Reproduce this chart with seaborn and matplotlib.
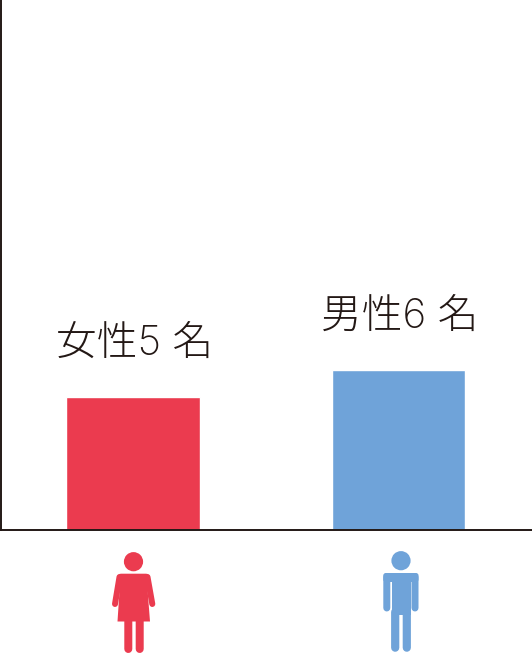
import matplotlib
matplotlib.use('Agg')
import matplotlib.pyplot as plt
from matplotlib.patches import Circle, FancyBboxPatch, Polygon, Rectangle
import pandas as pd
import seaborn as sns

genders = ['女性', '男性']
counts = [5, 6]
labels = ['女性5 名', '男性6 名']
colors = ['#EB3B4F', '#6FA3D9']
ink = '#231815'

sns.set_theme(style='white')
plt.rcParams['font.family'] = ['Inter', 'Noto Sans CJK JP', 'DejaVu Sans']

W, H = 532, 653
fig = plt.figure(figsize=(W / 100, H / 100), dpi=100)
ax = fig.add_axes([1 / W, (H - 530) / H, (W - 1) / W, 530 / H])

df = pd.DataFrame({'gender': genders, 'count': counts})
sns.barplot(data=df, x='gender', y='count', hue='gender', palette=colors,
            width=0.503, legend=False, saturation=1, ax=ax)

ax.set_xlim(-0.497, 1.503)
ax.set_ylim(0, 19.9)
ax.set_xlabel('')
ax.set_ylabel('')
ax.set_xticks([])
ax.set_yticks([])
sns.despine(ax=ax)
for side in ['left', 'bottom']:
    ax.spines[side].set_color(ink)
    ax.spines[side].set_linewidth(1.4)

for i, (count, label) in enumerate(zip(counts, labels)):
    ax.annotate(label, (i, count), xytext=(1, 30.5), textcoords='offset points',
                ha='center', va='baseline', fontsize=29.3, fontweight='light', color=ink)

# pictograms below the axis, overlay in pixel coordinates
icons = fig.add_axes([0, 0, 1, 1], zorder=5)
icons.set_xlim(0, W)
icons.set_ylim(H, 0)
icons.axis('off')


def limb(x0, y0, x1, y1, width, color):
    icons.plot([x0, x1], [y0, y1], color=color, lw=width * 0.72,
               solid_capstyle='round', snap=False)


def draw_woman(color):
    icons.add_patch(Circle((133.5, 561.7), 9.6, color=color, lw=0))
    icons.add_patch(FancyBboxPatch((118, 573.7), 31, 10, boxstyle='round,pad=0,rounding_size=3', color=color, lw=0))
    icons.add_patch(Polygon([(120.5, 576), (146.5, 576), (150, 621.5), (117.5, 621.5)], color=color, lw=0))
    limb(119.5, 577, 115, 604, 6, color)
    limb(147.5, 577, 152.3, 604, 6, color)
    limb(128.3, 618, 128.3, 649, 8, color)
    limb(139.7, 618, 139.7, 649, 8, color)


def draw_man(color):
    icons.add_patch(Circle((401, 560.7), 9.6, color=color, lw=0))
    icons.add_patch(FancyBboxPatch((383.3, 573), 35.2, 9, boxstyle='round,pad=0,rounding_size=2.5', color=color, lw=0))
    icons.add_patch(Rectangle((391.5, 575), 19.5, 40, color=color, lw=0))
    limb(386.8, 577, 386.8, 608, 7, color)
    limb(415, 577, 415, 608, 7, color)
    limb(395.2, 612, 395.2, 647.7, 8.2, color)
    limb(406.8, 612, 406.8, 647.7, 8.2, color)


draw_woman(colors[0])
draw_man(colors[1])

fig.savefig('out.png', dpi=100)
